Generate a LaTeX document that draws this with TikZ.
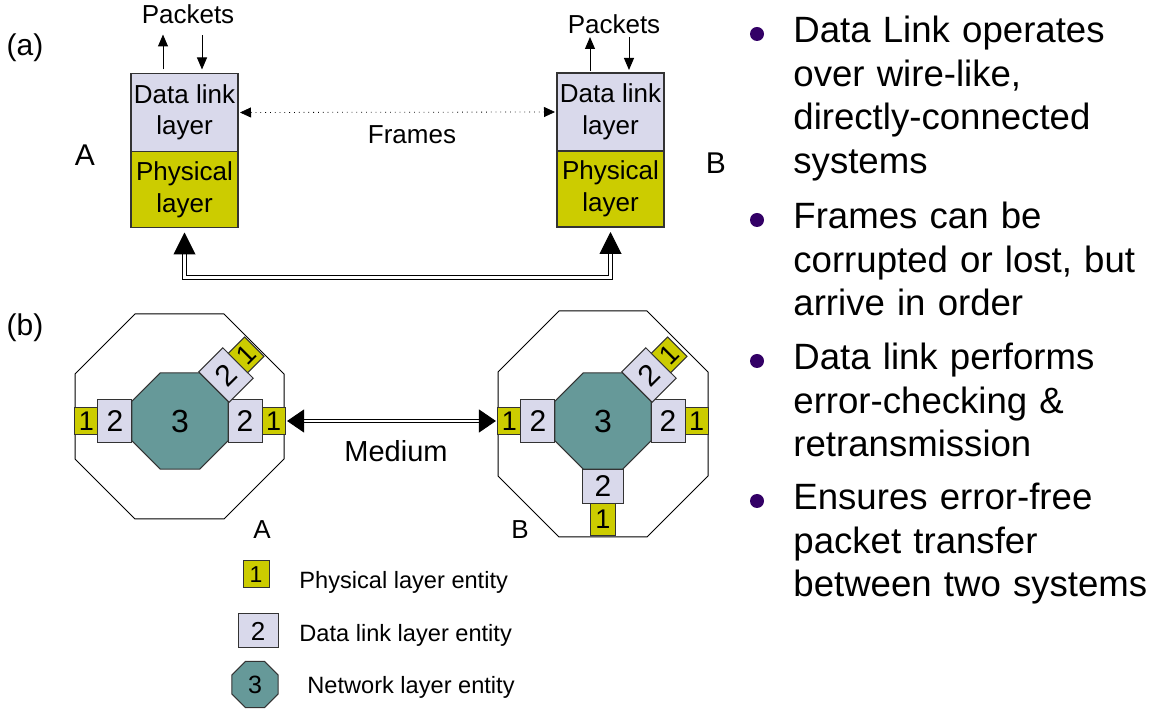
\documentclass[tikz,border=0pt]{standalone}
\usepackage{fontspec}
\setmainfont{Liberation Sans}
\usepackage{tikz}
\usetikzlibrary{shapes.geometric, arrows.meta, positioning}
\definecolor{physyellow}{RGB}{204,204,0}
\definecolor{linklilac}{RGB}{217,217,235}
\definecolor{netteal}{RGB}{102,153,153}
\definecolor{bulletpurple}{RGB}{51,0,102}

\begin{document}
\begin{tikzpicture}[
  x=0.5pt, y=-0.5pt,
  layerbox/.style={draw=black!80, line width=0.6pt, minimum width=53.5pt,
                   inner sep=0pt, outer sep=0pt, align=center,
                   font=\fontsize{13}{15.75}\selectfont},
  linkbox/.style={layerbox, fill=linklilac, minimum height=39pt},
  physbox/.style={layerbox, fill=physyellow, minimum height=38pt},
  entity/.style={draw=black!80, line width=0.5pt, inner sep=0pt, outer sep=0pt},
  phys/.style={entity, fill=physyellow, minimum width=11.5pt, minimum height=13.75pt,
               font=\fontsize{13.5}{16}\selectfont},
  link/.style={entity, fill=linklilac, minimum width=17pt, minimum height=21.5pt,
               font=\fontsize{15}{18}\selectfont},
  net/.style={entity, regular polygon, regular polygon sides=8, fill=netteal,
              minimum size=52pt, font=\fontsize{16}{19}\selectfont},
  casing/.style={draw, line width=0.5pt},
  lbl/.style={font=\fontsize{13}{15.5}\selectfont},
  sidename/.style={font=\fontsize{15}{18}\selectfont},
  keytext/.style={anchor=west, inner sep=0pt, font=\fontsize{11.8}{14}\selectfont},
  dot/.style={circle, fill=bulletpurple, minimum size=7pt, inner sep=0pt},
  point/.style={anchor=base west, align=left, text width=200pt, inner sep=0pt,
                font=\fontsize{18.3}{21.75}\selectfont},
  pktarrow/.style={-{Triangle[length=6pt, width=5pt]}, line width=0.5pt},
  framearrow/.style={{Triangle[length=5.5pt, width=5pt]}-{Triangle[length=5.5pt, width=5pt]},
                     line width=0.4pt, dotted, shorten <=1pt, shorten >=1pt},
  wirearrow/.style={{Triangle[length=11pt, width=11pt]}-{Triangle[length=11pt, width=11pt]},
                    double, double distance=1.2pt, line width=0.5pt,
                    shorten <=2.5pt, shorten >=2.5pt},
  mediumarrow/.style={{Triangle[length=8.5pt, width=11.5pt]}-{Triangle[length=8.5pt, width=11.5pt]},
                      double, double distance=1.2pt, line width=0.5pt,
                      shorten <=1pt, shorten >=1pt}
]
\useasboundingbox (0,0) rectangle (1153,716);

\node[sidename] (parta) at (25,48) {(a)};
\node[sidename] (partb) at (25,328) {(b)};

\node[linkbox] (dlA) at (184.5,112.5) {Data link\\layer};
\node[physbox, below=0pt of dlA] (phA) {\raisebox{-3pt}{\shortstack{Physical\\[1pt]layer}}};
\node[linkbox] (dlB) at (610.5,112) {Data link\\layer};
\node[physbox, below=0pt of dlB] (phB) {Physical\\layer};

\node[lbl] (pktA) at (188,14) {Packets};
\node[lbl] (pktB) at (614,24) {Packets};
\node[sidename] (nameA) at (85,155) {A};
\node[sidename] (nameB) at (716,163) {B};

\draw[pktarrow] ([xshift=-10.75pt, yshift=2pt]dlA.north) -- ++(0,-35);
\draw[pktarrow] ([xshift=8.75pt, yshift=19pt]dlA.north) -- ([xshift=8.75pt, yshift=2pt]dlA.north);
\draw[pktarrow] ([xshift=-10.25pt, yshift=1pt]dlB.north) -- ++(0,-34);
\draw[pktarrow] ([xshift=9.25pt, yshift=18pt]dlB.north) -- ([xshift=9.25pt, yshift=1.5pt]dlB.north);

\draw[framearrow] (dlA.east) -- (dlB.west);
\node[lbl] (frames) at (412,135) {Frames};

\draw[wirearrow] (phA.south) -- ++(0,50) -| (phB.south);

\draw[casing] (75,374) -- (135,314) -- (224,314) -- (284,374) -- (284,459)
  -- (224,519) -- (135,519) -- (75,459) -- cycle;
\draw[casing] (498,372) -- (559,311) -- (647,311) -- (708,372) -- (708,476)
  -- (647,537) -- (559,537) -- (498,476) -- cycle;

\node[net] (netA) at (180,421) {3};
\node[link, left=0pt of netA] (dlAw) {2};
\node[phys, left=0pt of dlAw] (phAw) {1};
\node[link, right=0pt of netA] (dlAe) {2};
\node[phys, right=0pt of dlAe] (phAe) {1};
\node[link, rotate=45, anchor=west] (dlAne) at (netA.north east) {2};
\node[phys, rotate=45, anchor=west] (phAne) at (dlAne.east) {1};

\node[net] (netB) at (603,421) {3};
\node[link, left=0pt of netB] (dlBw) {2};
\node[phys, left=0pt of dlBw] (phBw) {1};
\node[link, right=0pt of netB] (dlBe) {2};
\node[phys, right=0pt of dlBe] (phBe) {1};
\node[link, rotate=45, anchor=west] (dlBne) at (netB.north east) {2};
\node[phys, rotate=45, anchor=west] (phBne) at (dlBne.east) {1};
\node[link, minimum width=20.5pt, minimum height=17pt, below=0pt of netB] (dlBs) {2};
\node[phys, minimum width=12.5pt, minimum height=16pt, below=0pt of dlBs] (phBs) {1};

\draw[mediumarrow] (phAe.east) -- (phBw.west);
\node[font=\fontsize{14.5}{17}\selectfont] (medium) at (396,451) {Medium};
\node[lbl] (boxA) at (262,530) {A};
\node[lbl] (boxB) at (520,530) {B};

\node[phys, minimum width=13pt, minimum height=13.5pt, font=\fontsize{11.5}{14}\selectfont] (key1) at (256,574.5) {1};
\node[link, minimum width=20pt, minimum height=17pt, font=\fontsize{13}{15}\selectfont] (key2) at (258,631) {2};
\node[net, minimum size=25pt, font=\fontsize{12.5}{15}\selectfont] (key3) at (255,684.5) {3};
\node[keytext] (key1txt) at (299,582) {Physical layer entity};
\node[keytext] (key2txt) at (299,635) {Data link layer entity};
\node[keytext] (key3txt) at (307,687) {Network layer entity};

\node[dot] (dot1) at (757,34) {};
\node[point] (pt1) at (793,43) {Data Link operates\\over wire-like,\\directly-connected\\systems};
\node[dot] (dot2) at (757,220) {};
\node[point] (pt2) at (793,229) {Frames can be\\corrupted or lost, but\\arrive in order};
\node[dot] (dot3) at (757,361) {};
\node[point] (pt3) at (793,370) {Data link performs\\error-checking \&\\retransmission};
\node[dot] (dot4) at (757,501) {};
\node[point] (pt4) at (793,510) {Ensures error-free\\packet transfer\\between two systems};

\end{tikzpicture}
\end{document}
